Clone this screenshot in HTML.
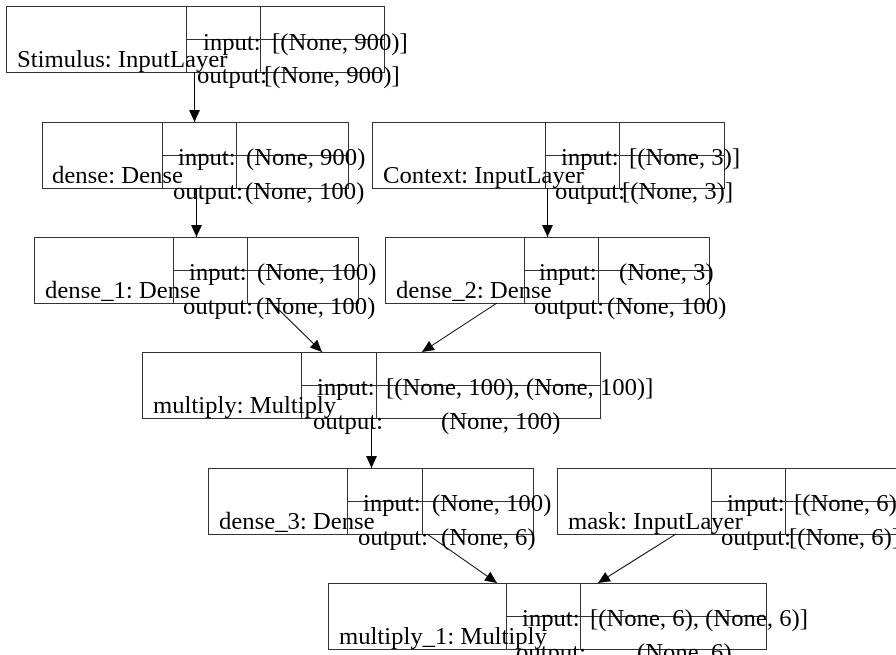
<!DOCTYPE html>
<html><head><meta charset="utf-8"><style>
html,body{margin:0;padding:0;background:#fff;width:896px;height:655px;overflow:hidden}
svg{display:block}
text{font-family:"Liberation Serif",serif;font-size:24.7px;fill:#000}
</style></head><body>
<svg width="896" height="655" viewBox="0 0 896 655" xmlns="http://www.w3.org/2000/svg">
<defs><marker id="a" markerWidth="12" markerHeight="12" refX="12" refY="5.5" orient="auto" markerUnits="userSpaceOnUse"><path d="M0,0 L12,5.5 L0,11 z" fill="#000"/></marker></defs>
<g fill="none" stroke="#333" stroke-width="1">
<rect x="6.5" y="6.5" width="378" height="66"/><path d="M186.5 6.5V72.5M260.5 6.5V72.5M186.5 39.5H384.5"/>
<rect x="42.5" y="122.5" width="306" height="66"/><path d="M162.5 122.5V188.5M236.5 122.5V188.5M162.5 155.5H348.5"/>
<rect x="372.5" y="122.5" width="352" height="66"/><path d="M545.5 122.5V188.5M619.5 122.5V188.5M545.5 155.5H724.5"/>
<rect x="34.5" y="237.5" width="324" height="66"/><path d="M173.5 237.5V303.5M247.5 237.5V303.5M173.5 270.5H358.5"/>
<rect x="385.5" y="237.5" width="324" height="66"/><path d="M524.5 237.5V303.5M598.5 237.5V303.5M524.5 270.5H709.5"/>
<rect x="142.5" y="352.5" width="458" height="66"/><path d="M301.5 352.5V418.5M376.5 352.5V418.5M301.5 385.5H600.5"/>
<rect x="208.5" y="468.5" width="325" height="66"/><path d="M347.5 468.5V534.5M422.5 468.5V534.5M347.5 501.5H533.5"/>
<rect x="557.5" y="468.5" width="360" height="66"/><path d="M711.5 468.5V534.5M785.5 468.5V534.5M711.5 501.5H896"/>
<rect x="328.5" y="583.5" width="438" height="66"/><path d="M506.5 583.5V649.5M580.5 583.5V649.5M506.5 616.5H766.5"/>
</g>
<g stroke="#000" stroke-width="1" fill="none">
<line x1="194.5" y1="72" x2="194.5" y2="122" marker-end="url(#a)"/>
<line x1="196.5" y1="188" x2="196.5" y2="237" marker-end="url(#a)"/>
<line x1="547.5" y1="188" x2="547.5" y2="237" marker-end="url(#a)"/>
<line x1="272" y1="303" x2="322" y2="352" marker-end="url(#a)"/>
<line x1="497" y1="303" x2="422" y2="352" marker-end="url(#a)"/>
<line x1="371.5" y1="418" x2="371.5" y2="468" marker-end="url(#a)"/>
<line x1="427" y1="534" x2="497" y2="583" marker-end="url(#a)"/>
<line x1="676" y1="534" x2="598" y2="583" marker-end="url(#a)"/>
</g>
<text x="17" y="67">Stimulus: InputLayer</text>
<text x="203" y="50">input:</text><text x="272" y="50">[(None, 900)]</text>
<text x="197" y="83">output:</text><text x="264" y="83">[(None, 900)]</text>

<text x="52" y="183">dense: Dense</text>
<text x="178" y="165">input:</text><text x="246" y="165">(None, 900)</text>
<text x="173" y="199">output:</text><text x="245" y="199">(None, 100)</text>

<text x="383" y="183">Context: InputLayer</text>
<text x="561" y="165">input:</text><text x="629" y="165">[(None, 3)]</text>
<text x="555" y="199">output:</text><text x="622" y="199">[(None, 3)]</text>

<text x="45" y="298">dense_1: Dense</text>
<text x="189" y="280">input:</text><text x="257" y="280">(None, 100)</text>
<text x="183" y="314">output:</text><text x="256" y="314">(None, 100)</text>

<text x="396" y="298">dense_2: Dense</text>
<text x="539" y="280">input:</text><text x="619" y="280">(None, 3)</text>
<text x="534" y="314">output:</text><text x="607" y="314">(None, 100)</text>

<text x="153" y="413">multiply: Multiply</text>
<text x="317" y="395">input:</text><text x="386" y="395">[(None, 100), (None, 100)]</text>
<text x="313" y="429">output:</text><text x="441" y="429">(None, 100)</text>

<text x="219" y="529">dense_3: Dense</text>
<text x="363" y="511">input:</text><text x="432" y="511">(None, 100)</text>
<text x="358" y="545">output:</text><text x="441" y="545">(None, 6)</text>

<text x="568" y="529">mask: InputLayer</text>
<text x="727" y="511">input:</text><text x="794" y="511">[(None, 6)]</text>
<text x="721" y="545">output:</text><text x="789" y="545">[(None, 6)]</text>

<text x="339" y="644">multiply_1: Multiply</text>
<text x="522" y="626">input:</text><text x="590" y="626">[(None, 6), (None, 6)]</text>
<text x="516" y="660">output:</text><text x="637" y="660">(None, 6)</text>
</svg>
</body></html>
